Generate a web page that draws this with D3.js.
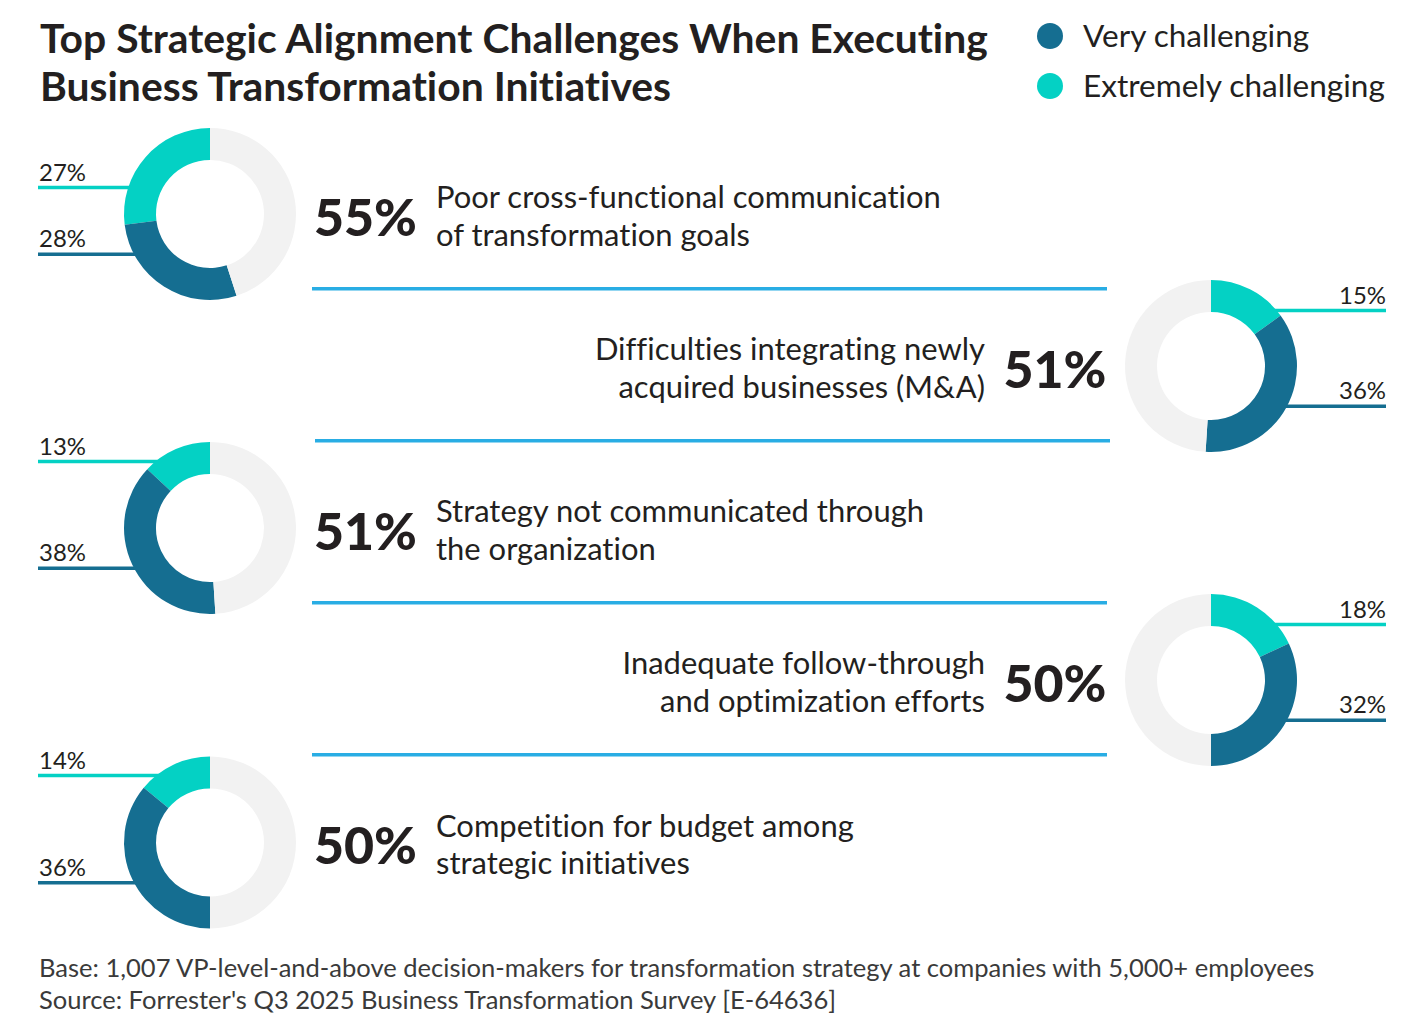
<!DOCTYPE html>
<html><head><meta charset="utf-8">
<script src="https://cdn.jsdelivr.net/npm/d3@7"></script>
<style>
html,body{margin:0;padding:0;background:#fff;}
svg{display:block;font-family:Lato,"Noto Sans",sans-serif;font-variant-ligatures:none;font-feature-settings:"liga" 0,"clig" 0;}
</style></head>
<body>
<svg id="chart" width="1414" height="1026"></svg>
<script>
// ---------- data ----------
const titleLines = ["Top Strategic Alignment Challenges When Executing", "Business Transformation Initiatives"];
const seriesNames = ["Very challenging", "Extremely challenging"];
const categories = [
  ["Poor cross-functional communication", "of transformation goals"],
  ["Difficulties integrating newly", "acquired businesses (M&A)"],
  ["Strategy not communicated through", "the organization"],
  ["Inadequate follow-through", "and optimization efforts"],
  ["Competition for budget among", "strategic initiatives"]
];
const veryChallenging = [28, 36, 38, 32, 36];
const extremelyChallenging = [27, 15, 13, 18, 14];
const totals = [55, 51, 51, 50, 50];
const footnotes = [
  "Base: 1,007 VP-level-and-above decision-makers for transformation strategy at companies with 5,000+ employees",
  "Source: Forrester's Q3 2025 Business Transformation Survey [E-64636]"
];

// ---------- layout ----------
const W = 1414, H = 1026;
const colors = {very: "#156e91", extreme: "#04d1c4", rest: "#f2f2f2", rule: "#29ade4", text: "#231f20", foot: "#3a3a3a"};
const rowY = d3.scaleOrdinal().domain(d3.range(5)).range([214, 366, 528, 680, 842.5]);
const side = ["left", "right", "left", "right", "left"];
const ruleShift = [0, 3, 0, 0];
const tealOffset = [-26.5, -55.5, -66.5, -55.5, -67];
const darkOffset = 40.3;
const outerR = 86, innerR = 54;
const donutX = {left: 210, right: 1211};

const svg = d3.select("#chart");

function fitSize(textSel, target, start) {
  textSel.style("font-size", start + "px");
  const w = textSel.node().getComputedTextLength();
  const s = start * target / w;
  textSel.style("font-size", s + "px");
  return s;
}

// title
const t1 = svg.append("text").attr("x", 40).attr("y", 53).attr("fill", colors.text)
  .attr("font-weight", 700).text(titleLines[0]);
const titleSize = fitSize(t1, 948, 36);
svg.append("text").attr("x", 40).attr("y", 100.5).attr("fill", colors.text)
  .attr("font-weight", 700).style("font-size", titleSize + "px").text(titleLines[1]);

// legend
const legend = svg.append("g");
const legY = d3.scalePoint().domain(seriesNames).range([36, 86]);
const legColor = d3.scaleOrdinal().domain(seriesNames).range([colors.very, colors.extreme]);
legend.selectAll("circle").data(seriesNames).join("circle")
  .attr("cx", 1050).attr("cy", d => legY(d)).attr("r", 13).attr("fill", d => legColor(d));
const legTexts = legend.selectAll("text").data(seriesNames).join("text")
  .attr("x", 1083).attr("y", d => legY(d) + 10.5).attr("fill", colors.text).text(d => d);
const legSize = fitSize(d3.select(legTexts.nodes()[1]), 302, 28);
legTexts.style("font-size", legSize + "px");

// measure text sizes
const probe = svg.append("text").text(categories[0][0]);
const descSize = fitSize(probe, 505, 28);
probe.remove();
const probe2 = svg.append("text").attr("font-weight", 900).text("55%");
const numSize = fitSize(probe2, 103, 52);
probe2.remove();
const probe3 = svg.append("text").text("27%");
const labSize = fitSize(probe3, 47, 20);
probe3.remove();

const arc = d3.arc().innerRadius(innerR).outerRadius(outerR);

categories.forEach((cat, i) => {
  const cy = rowY(i);
  const s = side[i];
  const cx = donutX[s];
  const g = svg.append("g");
  const values = [extremelyChallenging[i], veryChallenging[i], 100 - extremelyChallenging[i] - veryChallenging[i]];
  const segColors = [colors.extreme, colors.very, colors.rest];
  const pie = d3.pie().sort(null).value(d => d)
    .startAngle(0).endAngle(s === "left" ? -2 * Math.PI : 2 * Math.PI);

  // label leader lines
  const labels = [
    {v: extremelyChallenging[i], dy: tealOffset[i], c: colors.extreme},
    {v: veryChallenging[i], dy: darkOffset, c: colors.very}
  ];
  labels.forEach(l => {
    const dx = Math.sqrt(outerR * outerR - l.dy * l.dy) - 4;
    const y = cy + l.dy;
    if (s === "left") {
      g.append("line").attr("x1", 38).attr("x2", cx - dx).attr("y1", y).attr("y2", y)
        .attr("stroke", l.c).attr("stroke-width", 3.5);
      g.append("text").attr("x", 39).attr("y", y - 7).attr("fill", colors.text)
        .style("font-size", labSize + "px").text(l.v + "%");
    } else {
      g.append("line").attr("x1", cx + dx).attr("x2", 1386).attr("y1", y).attr("y2", y)
        .attr("stroke", l.c).attr("stroke-width", 3.5);
      g.append("text").attr("x", 1386).attr("y", y - 7).attr("text-anchor", "end").attr("fill", colors.text)
        .style("font-size", labSize + "px").text(l.v + "%");
    }
  });

  g.append("g").attr("transform", `translate(${cx},${cy})`)
    .selectAll("path").data(pie(values)).join("path")
    .attr("d", arc)
    .attr("fill", (d, j) => segColors[j]);

  // big number
  const numX = s === "left" ? 365.5 : 1055;
  g.append("text").attr("x", numX).attr("y", cy + 21.5).attr("text-anchor", "middle")
    .attr("font-weight", 900).attr("fill", colors.text).style("font-size", numSize + "px")
    .text(totals[i] + "%");

  // description
  const tx = s === "left" ? 436 : 985;
  const anchor = s === "left" ? "start" : "end";
  cat.forEach((line, k) => {
    g.append("text").attr("x", tx).attr("y", cy - 6 + k * 37.5).attr("text-anchor", anchor)
      .attr("fill", colors.text).style("font-size", descSize + "px").text(line);
  });

  // separator rule
  if (i < categories.length - 1) {
    const off = ruleShift[i];
    g.append("line").attr("x1", 312 + off).attr("x2", 1107 + off)
      .attr("y1", cy + 74.7).attr("y2", cy + 74.7)
      .attr("stroke", colors.rule).attr("stroke-width", 3.5);
  }
});

// footnotes
const f1 = svg.append("text").attr("x", 39).attr("y", 977).attr("fill", colors.foot).text(footnotes[0]);
const footSize = fitSize(f1, 1276, 22);
svg.append("text").attr("x", 39).attr("y", 1009).attr("fill", colors.foot)
  .style("font-size", footSize + "px").text(footnotes[1]);
</script>
</body></html>
